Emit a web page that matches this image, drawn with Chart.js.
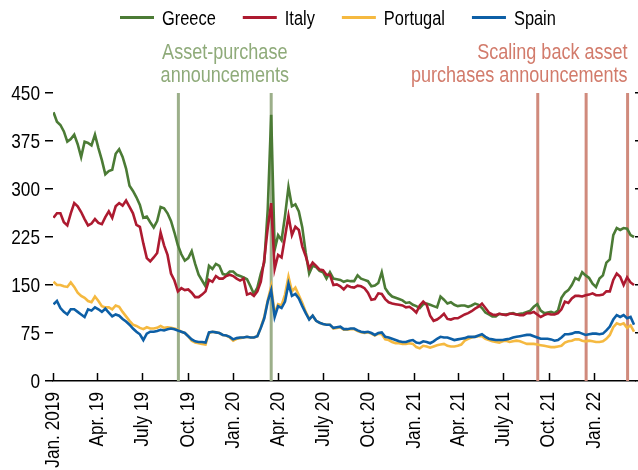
<!DOCTYPE html>
<html>
<head>
<meta charset="utf-8">
<script src="https://cdn.jsdelivr.net/npm/chart.js@4.4.1/dist/chart.umd.min.js"></script>
<style>
  html, body { margin: 0; padding: 0; background: #fff; }
  canvas { display: block; }
</style>
</head>
<body>
<canvas id="chart" width="638" height="470"></canvas>
<script>
// Sovereign spreads, weekly observations starting 2 Jan 2019 (basis points)
const firstObs = '2019-01-02';
const stepDays = 7;

const seriesNames = ['Greece', 'Italy', 'Portugal', 'Spain'];
const seriesColors = ['#4b7b35', '#ad1a30', '#f5b940', '#0d5fa6'];

const greece = [
  420,405,400,390,374,378,385,370,350,374,
  372,368,385,364,345,323,328,330,355,362,
  350,332,305,297,287,275,255,257,248,240,
  250,272,270,262,250,232,212,198,188,192,
  203,183,166,157,148,180,175,183,180,167,
  166,171,171,166,164,162,159,148,136,146,
  168,185,268,416,205,228,220,258,303,273,
  276,265,240,200,168,180,178,172,170,160,
  170,160,159,158,155,157,156,156,165,160,
  158,156,148,149,153,170,145,137,132,130,
  128,126,122,123,119,117,114,120,121,119,
  117,115,132,127,121,123,119,117,118,118,
  116,118,121,119,114,107,104,101,101,105,
  104,104,105,106,104,105,106,108,110,116,
  120,110,106,107,108,106,110,130,138,142,
  150,161,158,170,165,161,152,147,160,165,
  185,190,228,239,236,239,238,228,225
];

const italy = [
  255,262,262,248,243,262,278,273,264,253,
  243,246,253,247,245,256,265,255,273,278,
  274,282,272,262,244,241,215,192,187,193,
  200,232,212,197,168,157,140,145,142,143,
  138,131,131,135,140,158,155,164,160,160,
  164,166,164,160,157,160,135,137,133,140,
  155,190,239,278,175,197,193,225,258,228,
  241,236,210,195,176,185,180,174,173,166,
  166,150,151,148,143,149,147,146,149,148,
  145,138,127,128,137,136,128,123,121,120,
  119,118,115,116,112,107,118,124,119,102,
  94,96,100,105,97,96,98,98,101,104,
  106,109,113,116,121,114,107,104,103,105,
  104,103,105,105,104,103,103,106,106,108,
  104,100,103,105,104,104,106,112,124,122,
  129,133,133,132,134,135,137,134,134,135,
  140,140,158,168,163,150,162,154,150
];

const portugal = [
  155,150,150,148,147,154,147,138,133,130,
  125,123,132,125,117,115,115,112,118,116,
  108,101,94,88,86,83,81,84,82,82,
  83,86,83,84,83,82,80,77,75,70,
  63,60,59,58,57,75,77,76,75,72,
  71,68,63,66,67,68,69,68,68,70,
  84,100,126,148,105,120,118,135,163,140,
  146,134,122,108,97,102,94,91,89,88,
  88,82,83,84,80,80,81,81,78,76,
  75,76,74,71,74,73,65,64,61,59,
  59,58,58,59,58,53,51,55,54,52,
  54,56,57,58,55,54,54,55,57,63,
  66,68,69,70,70,66,64,62,61,60,
  62,63,61,62,63,62,60,58,58,58,
  57,56,55,54,53,53,54,55,60,62,
  63,65,65,63,62,63,62,61,61,62,
  66,72,84,90,88,90,83,87,77
];

const spain = [
  120,125,114,108,104,112,112,108,104,100,
  112,110,115,112,108,113,107,101,104,102,
  97,93,88,82,77,73,64,74,77,77,
  78,80,79,81,82,81,79,77,75,70,
  65,62,61,61,60,76,77,76,75,72,
  71,69,65,67,68,68,69,68,68,70,
  83,98,124,142,100,117,114,124,152,133,
  136,129,117,106,96,102,94,91,89,88,
  88,83,84,85,81,81,82,82,79,77,
  76,77,75,72,75,76,69,68,66,64,
  62,61,61,63,64,60,59,62,61,59,
  62,66,69,68,68,66,64,65,66,67,
  69,69,69,71,73,69,66,65,64,64,
  64,65,66,68,69,70,71,72,72,70,
  68,66,66,66,65,63,64,68,73,73,
  74,76,76,74,72,73,74,74,73,74,
  79,85,96,103,100,103,98,100,88
];

// Quarterly axis ticks
const tickDates = ['2019-01-01','2019-04-01','2019-07-01','2019-10-01','2020-01-01','2020-04-01',
                   '2020-07-01','2020-10-01','2021-01-01','2021-04-01','2021-07-01','2021-10-01','2022-01-01'];
const tickLabels = ['Jan. 2019','Apr. 19','July 19','Oct. 19','Jan. 20','Apr. 20',
                    'July 20','Oct. 20','Jan. 21','Apr. 21','July 21','Oct. 21','Jan. 22'];
const yTicks = [0, 75, 150, 225, 300, 375, 450];

// ECB announcement dates
const assetPurchaseDates = ['2019-09-12', '2020-03-18'];
const scalingBackDates = ['2021-09-09', '2021-12-16', '2022-03-10'];
const assetPurchaseNote = ['Asset-purchase', 'announcements'];
const scalingBackNote = ['Scaling back asset', 'purchases announcements'];

const FONT = "'Liberation Sans', Arial, sans-serif";
const NARROW = 0.82;            // horizontal squeeze for a condensed look
const GREEN_LINE = '#9caf8a';
const GREEN_TEXT = '#8fab7a';
const RED_LINE = '#d08a7c';
const RED_TEXT = '#d27b6b';

const dayOf = s => (Date.parse(s) - Date.parse('2019-01-01')) / 864e5;
const toPoints = vals => vals.map((v, i) => ({ x: dayOf(firstObs) + i * stepDays, y: v }));
const seriesValues = [greece, italy, portugal, spain];

// condensed text helper
function narrowText(ctx, text, x, y, opts) {
  const { size = 20, color = '#000', align = 'left', baseline = 'alphabetic', rotate = false } = opts || {};
  ctx.save();
  ctx.translate(x, y);
  if (rotate) ctx.rotate(-Math.PI / 2);
  ctx.scale(NARROW, 1);
  ctx.font = `${size}px ${FONT}`;
  ctx.fillStyle = color;
  ctx.textAlign = align;
  ctx.textBaseline = baseline;
  ctx.fillText(text, 0, 0);
  const w = ctx.measureText(text).width * NARROW;
  ctx.restore();
  return w;
}

// Vertical event markers behind the series
const eventLines = {
  id: 'eventLines',
  beforeDatasetsDraw(chart) {
    const { ctx, chartArea: a, scales: { x } } = chart;
    ctx.save();
    ctx.lineWidth = 3;
    [[assetPurchaseDates, GREEN_LINE], [scalingBackDates, RED_LINE]].forEach(([dates, col]) => {
      ctx.strokeStyle = col;
      dates.forEach(d => {
        const px = x.getPixelForValue(dayOf(d));
        ctx.beginPath();
        ctx.moveTo(px, a.top);
        ctx.lineTo(px, a.bottom);
        ctx.stroke();
      });
    });
    ctx.restore();
  }
};

// Axis labels, inner x ticks, legend row and the two event captions
const decorations = {
  id: 'decorations',
  afterDraw(chart) {
    const { ctx, chartArea: a, scales: { x, y } } = chart;
    ctx.save();
    // x tick marks pointing into the plot
    ctx.strokeStyle = '#000';
    ctx.lineWidth = 1.5;
    x.ticks.forEach(t => {
      const px = Math.round(x.getPixelForValue(t.value)) + 0.5;
      ctx.beginPath();
      ctx.moveTo(px, a.bottom - 8);
      ctx.lineTo(px, a.bottom);
      ctx.stroke();
    });
    ctx.restore();

    // x labels, rotated
    x.ticks.forEach(t => {
      const k = tickDates.findIndex(d => dayOf(d) === t.value);
      if (k < 0) return;
      narrowText(ctx, tickLabels[k], x.getPixelForValue(t.value), a.bottom + 11,
                 { size: 21, align: 'right', baseline: 'middle', rotate: true });
    });

    // y labels
    y.ticks.forEach(t => {
      narrowText(ctx, String(t.value), a.left - 13, y.getPixelForValue(t.value) + 1,
                 { size: 21, align: 'right', baseline: 'middle' });
    });

    // legend
    let lx = 120;
    chart.data.datasets.forEach(ds => {
      ctx.fillStyle = ds.borderColor;
      ctx.fillRect(lx, 16, 34, 3);
      const w = narrowText(ctx, ds.label, lx + 42, 25, { size: 20 });
      lx += 42 + w + 27;
    });

    // captions
    const g0 = x.getPixelForValue(dayOf(assetPurchaseDates[0]));
    const g1 = x.getPixelForValue(dayOf(assetPurchaseDates[1]));
    assetPurchaseNote.forEach((s, i) =>
      narrowText(ctx, s, (g0 + g1) / 2, 59 + i * 23, { size: 22, color: GREEN_TEXT, align: 'center' }));
    const r2 = x.getPixelForValue(dayOf(scalingBackDates[scalingBackDates.length - 1]));
    scalingBackNote.forEach((s, i) =>
      narrowText(ctx, s, r2, 59 + i * 23, { size: 22, color: RED_TEXT, align: 'right' }));
  }
};

const setTicks = vals => scale => { scale.ticks = vals.map(v => ({ value: v })); };

new Chart(document.getElementById('chart'), {
  type: 'line',
  data: {
    datasets: seriesNames.map((name, k) => ({
      label: name,
      data: toPoints(seriesValues[k]),
      borderColor: seriesColors[k],
      backgroundColor: seriesColors[k],
      borderWidth: 2.6,
      pointRadius: 0,
      tension: 0,
      order: seriesNames.length - 1 - k
    }))
  },
  options: {
    responsive: false,
    animation: false,
    events: [],
    layout: { padding: { top: 93, left: 0, right: 0, bottom: 0 } },
    plugins: { legend: { display: false }, tooltip: { enabled: false } },
    scales: {
      x: {
        type: 'linear',
        min: 0,
        max: 1179,
        afterBuildTicks: setTicks(tickDates.map(dayOf)),
        afterFit: s => { s.height = 89; },
        grid: { display: false, drawTicks: false },
        border: { display: true, color: '#000', width: 1.5 },
        ticks: { display: false }
      },
      y: {
        min: 0,
        max: 450,
        afterBuildTicks: setTicks(yTicks),
        afterFit: s => { s.width = 53; },
        grid: { drawOnChartArea: false, drawTicks: true, tickLength: 8, color: '#000', lineWidth: 1.5 },
        border: { display: false },
        ticks: { display: false }
      },
      yRight: {
        position: 'right',
        min: 0,
        max: 450,
        afterBuildTicks: setTicks(yTicks),
        afterFit: s => { s.width = 3; },
        grid: { drawOnChartArea: false, drawTicks: true, tickLength: 3, color: '#000', lineWidth: 1.5 },
        border: { display: false },
        ticks: { display: false }
      }
    }
  },
  plugins: [eventLines, decorations]
});
</script>
</body>
</html>
